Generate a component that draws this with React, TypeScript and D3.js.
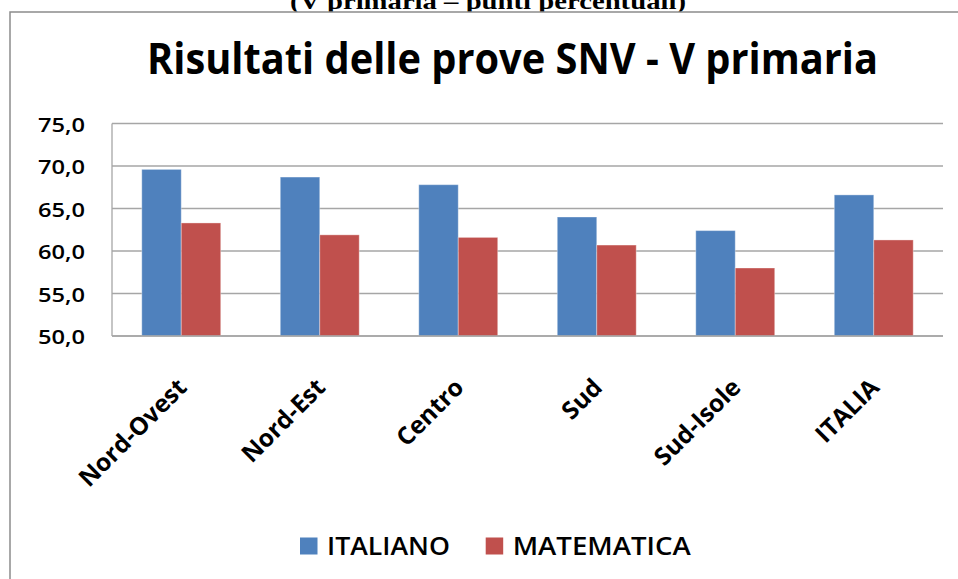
import { useMemo } from 'react';
import * as d3 from 'd3';

const categories = ['Nord-Ovest', 'Nord-Est', 'Centro', 'Sud', 'Sud-Isole', 'ITALIA'];
const seriesNames = ['ITALIANO', 'MATEMATICA'];
const italiano = [69.6, 68.7, 67.8, 64.0, 62.4, 66.6];
const matematica = [63.3, 61.9, 61.6, 60.7, 58.0, 61.3];
const yTicks = [50, 55, 60, 65, 70, 75];

const chartTitle = 'Risultati delle prove SNV - V primaria';
const pageHeading = '(V primaria – punti percentuali)';

const W = 958;
const H = 579;
const colors = ['#4F81BD', '#C0504D'];
const font = '"Open Sans", "Liberation Sans", sans-serif';

export default function App() {
  const plot = { left: 112, right: 943, top: 123.5, bottom: 336 };

  const { x, xInner, y, rows } = useMemo(() => {
    const x = d3
      .scaleBand<string>()
      .domain(categories)
      .range([plot.left, plot.right])
      .paddingInner(0.43)
      .paddingOuter(0.215);
    const xInner = d3.scaleBand<string>().domain(seriesNames).range([0, x.bandwidth()]);
    const y = d3.scaleLinear().domain([50, 75]).range([plot.bottom, plot.top]);
    const rows = categories.map((c, i) => ({ c, vals: [italiano[i], matematica[i]] }));
    return { x, xInner, y, rows };
  }, []);

  return (
    <svg
      width={W}
      height={H}
      style={{ position: 'absolute', left: 0, top: 0, display: 'block', background: '#fff' }}
    >
      {/* heading of the page, cut at the top like in the scan */}
      <text
        x={290}
        y={8.5}
        fontFamily='"Liberation Serif", "Times New Roman", serif'
        fontWeight="bold"
        fontSize={23}
        textLength={396}
        lengthAdjust="spacingAndGlyphs"
        fill="#000"
      >
        {pageHeading}
      </text>

      {/* chart frame */}
      <rect x={10} y={12} width={W + 10} height={H + 10} fill="#fff" stroke="#8c8c8c" strokeWidth={1.5} />

      <text
        x={147}
        y={74}
        fontFamily={font}
        fontWeight="bold"
        fontSize={43}
        textLength={731}
        lengthAdjust="spacingAndGlyphs"
        fill="#000"
      >
        {chartTitle}
      </text>

      {/* gridlines */}
      {yTicks.map((t) => (
        <line key={t} x1={plot.left} x2={plot.right} y1={y(t)} y2={y(t)} stroke="#a6a6a6" strokeWidth={1.3} />
      ))}
      <line x1={plot.left} x2={plot.left} y1={plot.top} y2={plot.bottom} stroke="#a6a6a6" strokeWidth={1.3} />

      {/* y tick labels */}
      {yTicks.map((t) => (
        <text
          key={t}
          x={85}
          y={y(t) + 8}
          textAnchor="end"
          fontFamily={font}
          fontWeight="600"
          fontSize={19.5}
          textLength={47}
          lengthAdjust="spacingAndGlyphs"
          fill="#000"
        >
          {t.toFixed(1).replace('.', ',')}
        </text>
      ))}

      {/* bars */}
      {rows.map((r) => (
        <g key={r.c} transform={`translate(${x(r.c)},0)`}>
          {r.vals.map((v, j) => (
            <rect
              key={j}
              x={xInner(seriesNames[j])}
              y={y(v)}
              width={xInner.bandwidth()}
              height={y(50) - y(v)}
              fill={colors[j]}
              stroke="rgba(255,255,255,0.35)"
              strokeWidth={1}
            />
          ))}
        </g>
      ))}
      <line x1={plot.left} x2={plot.right} y1={plot.bottom} y2={plot.bottom} stroke="#a6a6a6" strokeWidth={1.3} />

      {/* category labels */}
      {categories.map((c) => (
        <text
          key={c}
          transform={`translate(${(x(c) ?? 0) + x.bandwidth() / 2 + 7},389) rotate(-45)`}
          textAnchor="end"
          fontFamily={font}
          fontWeight="bold"
          fontSize={24.5}
          fill="#000"
        >
          {c}
        </text>
      ))}

      {/* legend */}
      {seriesNames.map((s, i) => {
        const lx = [300, 485.7][i];
        const tl = [123, 178][i];
        return (
          <g key={s}>
            <rect x={lx} y={537.5} width={17.5} height={17} fill={colors[i]} />
            <text
              x={lx + 27}
              y={555}
              fontFamily={font}
              fontWeight="600"
              fontSize={25}
              textLength={tl}
              lengthAdjust="spacingAndGlyphs"
              fill="#000"
            >
              {s}
            </text>
          </g>
        );
      })}
    </svg>
  );
}
